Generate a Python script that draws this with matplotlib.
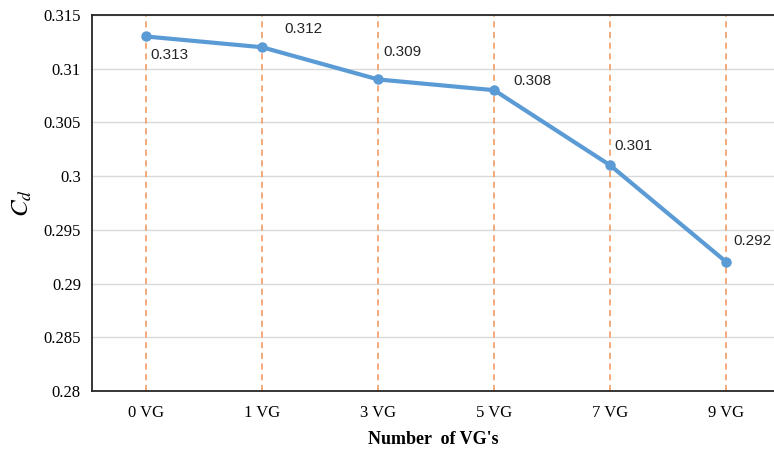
import matplotlib.pyplot as plt

plt.rcParams['mathtext.fontset'] = 'stix'

categories = ['0 VG', '1 VG', '3 VG', '5 VG', '7 VG', '9 VG']
cd_values = [0.313, 0.312, 0.309, 0.308, 0.301, 0.292]
label_offsets = [(4, -19), (22, 18), (5, 27), (19, 9), (4, 19), (7, 21)]
y_ticks = [0.28, 0.285, 0.29, 0.295, 0.3, 0.305, 0.31, 0.315]
y_tick_labels = ['0.28', '0.285', '0.29', '0.295', '0.3', '0.305', '0.31', '0.315']

fig = plt.figure(figsize=(7.74, 4.54), dpi=100)
ax = fig.add_axes([92 / 774, 63 / 454, 1 - 92 / 774, 376 / 454])

x = list(range(len(categories)))

ax.set_ylim(0.28, 0.315)
ax.set_xlim(-0.465, 5.41)
ax.set_yticks(y_ticks)
ax.set_yticklabels(y_tick_labels, family='Liberation Serif', fontsize=12)
ax.set_xticks(x)
ax.set_xticklabels(categories, family='Liberation Serif', fontsize=12)
ax.tick_params(axis='y', length=0, pad=8)
ax.tick_params(axis='x', length=0, pad=10)

ax.grid(axis='y', color='#d9d9d9', linewidth=1)
for xi in x:
    ax.axvline(xi, color='#f0925a', linestyle=(0, (4, 3)), linewidth=1.1, zorder=1)

ax.plot(x, cd_values, color='#5b9bd5', linewidth=3, marker='o', markersize=6.5, zorder=3)

for xi, v, off in zip(x, cd_values, label_offsets):
    ax.annotate(f'{v:.3f}', (xi, v), xytext=off, textcoords='offset pixels',
                ha='left', va='center', fontsize=11, family='Liberation Sans', color='#262626')

for side in ['left', 'bottom', 'top']:
    ax.spines[side].set_color('#262626')
    ax.spines[side].set_linewidth(1.3)
ax.spines['right'].set_visible(False)
ax.set_axisbelow(True)

ax.set_xlabel("Number  of VG's", family='Liberation Serif', fontsize=13, fontweight='bold', labelpad=7)
ax.set_ylabel(r'$\mathbf{\mathit{C_d}}$', fontsize=18, labelpad=4)
ax.yaxis.set_label_coords(-0.085, 0.5)

fig.savefig('out.png', dpi=100)
